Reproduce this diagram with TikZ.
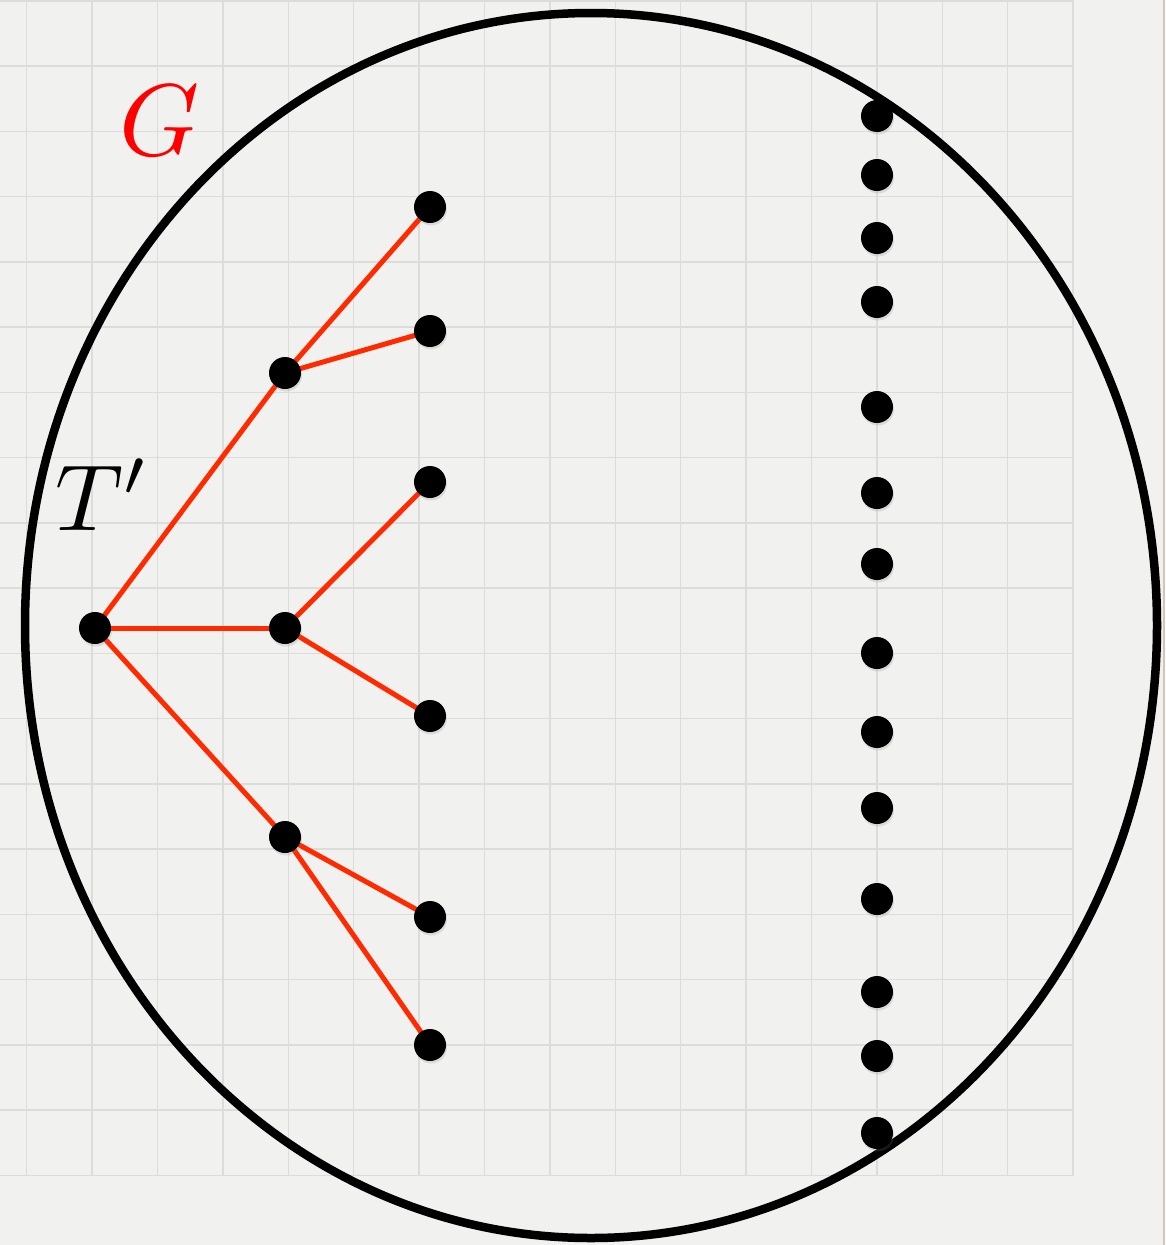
\documentclass[tikz,border=0pt]{standalone}
\usetikzlibrary{shadows}
\definecolor{paper}{HTML}{F1F1EF}
\definecolor{gridc}{HTML}{DCDCDA}
\definecolor{edgered}{HTML}{FF2A00}
\definecolor{glabel}{HTML}{FF0000}
\pgfdeclarelayer{paperlayer}
\pgfdeclarelayer{edgelayer}
\pgfsetlayers{paperlayer,edgelayer,main}
\begin{document}
\begin{tikzpicture}[x=1pt,y=-1pt,
  dot/.style={circle,fill=black,inner sep=0pt,minimum size=32pt,
    drop shadow={opacity=0.2,shadow xshift=1pt,shadow yshift=-2.5pt}},
  tedge/.style={draw=edgered,line width=5pt},
  gridline/.style={draw=gridc,line width=1.5pt},
  bigmath/.style={inner sep=0pt,anchor=base west}
]
\useasboundingbox (0,0) rectangle (1165,1245);
\begin{pgfonlayer}{paperlayer}
\fill[paper] (0,0) rectangle (1165,1245);
\foreach \i in {0,...,16} \draw[gridline] ({26.7+65.4*\i},0) -- ({26.7+65.4*\i},1175.5);
\foreach \j in {0,...,18} \draw[gridline] (0,{0.8+65.25*\j}) -- (1073.3,{0.8+65.25*\j});
\draw[draw={rgb,255:red,215;green,195;blue,185},line width=1.5pt] (1164,0) -- (1164,1245);
\end{pgfonlayer}

% big ellipse G
\draw[line width=8.5pt] (591,625.5) ellipse [x radius=566pt, y radius=612.5pt];

% labels
\node[bigmath,text=glabel,scale=10.2] (glab) at (117,155) {$G$};
\node[bigmath,scale=9.4] (tlab) at (54,530) {$T'$};

% tree T'
\node[dot] (r) at (95,628) {};
\node[dot] (a) at (285,373) {};
\node[dot] (b) at (285,628) {};
\node[dot] (c) at (285,837) {};
\node[dot] (a1) at (430,207) {};
\node[dot] (a2) at (430,331) {};
\node[dot] (b1) at (430,482) {};
\node[dot] (b2) at (430,716) {};
\node[dot] (c1) at (430,917) {};
\node[dot] (c2) at (430,1045) {};

\begin{pgfonlayer}{edgelayer}
\draw[tedge] (r.center) -- (a.center);
\draw[tedge] (r.center) -- (b.center);
\draw[tedge] (r.center) -- (c.center);
\draw[tedge] (a.center) -- (a1.center);
\draw[tedge] (a.center) -- (a2.center);
\draw[tedge] (b.center) -- (b1.center);
\draw[tedge] (b.center) -- (b2.center);
\draw[tedge] (c.center) -- (c1.center);
\draw[tedge] (c.center) -- (c2.center);
\end{pgfonlayer}

% column of isolated vertices
\foreach \y [count=\k] in {116,175,238,302,407,493,564,653,732,808,899,992,1056,1133}
  \node[dot] (v\k) at (877,\y) {};
\end{tikzpicture}
\end{document}
